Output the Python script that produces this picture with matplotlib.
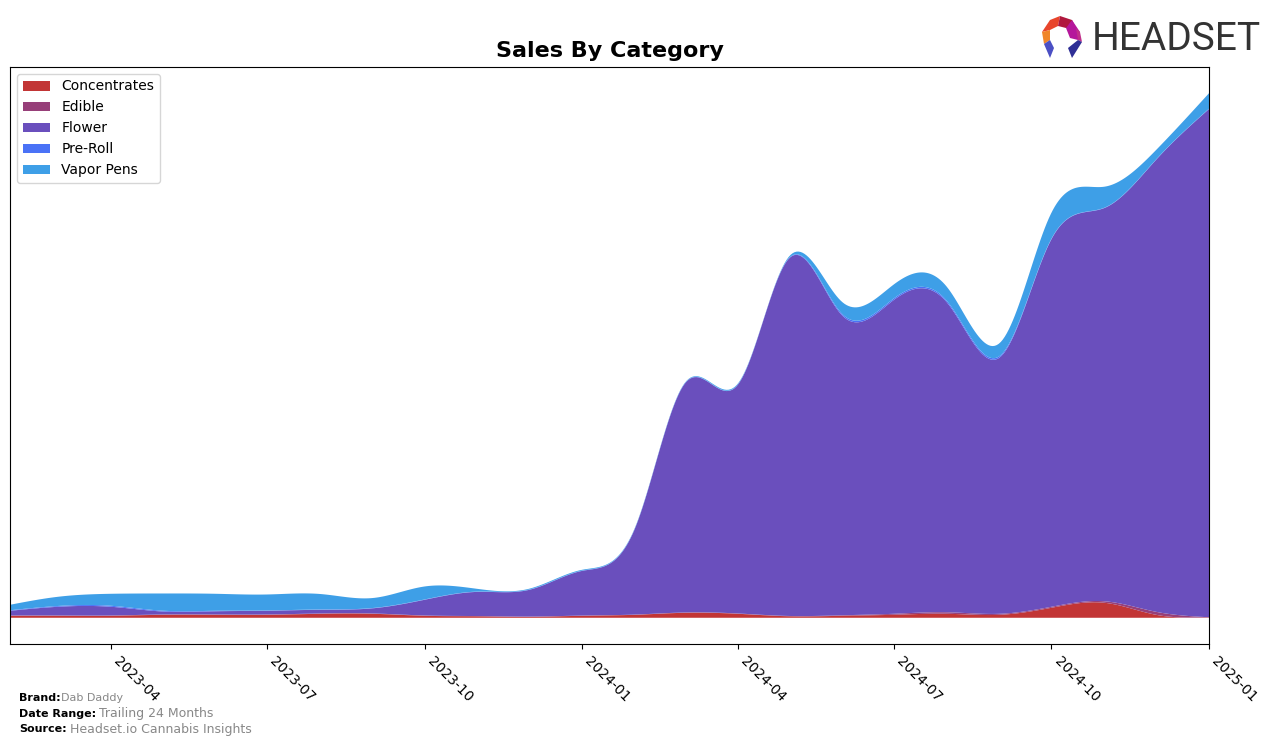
import numpy as np
import pandas as pd
import matplotlib
matplotlib.use("Agg")
import matplotlib.pyplot as plt
import matplotlib.dates as mdates
from matplotlib.patches import Polygon

# monthly sales (arbitrary units)
months = pd.date_range("2023-02-01", "2025-01-01", freq="MS")
categories = ["Concentrates", "Edible", "Flower", "Pre-Roll", "Vapor Pens"]
colors = ["#c23535", "#973f79", "#6a4fbd", "#4a72f6", "#3e9fe7"]

concentrates = [2, 2, 2, 3, 3, 3, 4, 4, 2, 1.5, 1, 2,
                3, 5, 4, 1.5, 2, 3, 4, 3, 10, 15, 3, 0.5]
edible = [0.3, 0.3, 0.3, 0.3, 0.3, 0.3, 0.3, 0.3, 0.3, 0.2, 0.2, 0.2,
          0.2, 0.3, 0.3, 0.3, 0.5, 1, 1.5, 1, 1, 1.5, 3, 0]
flower = [4.7, 8.7, 8.7, 3, 3.2, 3.7, 3.7, 5.2, 15.7, 24.2, 26.7, 44.7,
          86.7, 229, 229, 358, 299.7, 314, 310, 256.7, 367.7, 393.5, 452, 508.5]
preroll = [0.5, 0.8, 1, 0.8, 0.5, 0.3, 0.3, 0.3, 0.3, 0.3, 0.3, 0.3,
           0.3, 0.3, 0.3, 0.5, 1.5, 1.5, 1.5, 1.5, 0.5, 0.3, 0.3, 0.3]
vapor = [5.5, 9.2, 12, 17.2, 17, 16, 15.5, 10, 13, 2.7, 0.8, 0.8,
         0.5, 0.5, 0.8, 1.5, 12, 14, 14, 13, 26, 21, 9.5, 15.5]

tick_dates = pd.date_range("2023-04-01", "2025-01-01", freq="QS")


def natural_spline(x, y, xs):
    """natural cubic spline through (x, y), evaluated at xs"""
    x = np.asarray(x, float)
    y = np.asarray(y, float)
    n = len(x)
    h = np.diff(x)
    A = np.zeros((n, n))
    r = np.zeros(n)
    A[0, 0] = A[-1, -1] = 1.0
    for i in range(1, n - 1):
        A[i, i - 1] = h[i - 1]
        A[i, i] = 2 * (h[i - 1] + h[i])
        A[i, i + 1] = h[i]
        r[i] = 6 * ((y[i + 1] - y[i]) / h[i] - (y[i] - y[i - 1]) / h[i - 1])
    M = np.linalg.solve(A, r)
    k = np.clip(np.searchsorted(x, xs) - 1, 0, n - 2)
    t0 = xs - x[k]
    t1 = x[k + 1] - xs
    hk = h[k]
    return (M[k] * t1**3 / (6 * hk) + M[k + 1] * t0**3 / (6 * hk)
            + (y[k] / hk - M[k] * hk / 6) * t1
            + (y[k + 1] / hk - M[k + 1] * hk / 6) * t0)


xnum = mdates.date2num(months)
xs = np.linspace(xnum[0], xnum[-1], 600)
series = [concentrates, edible, flower, preroll, vapor]
smooth = [natural_spline(xnum, s, xs) for s in series]

fig = plt.figure(figsize=(12.76, 7.46), dpi=100)
ax = fig.add_axes([10 / 1276, 1 - 644 / 746, 1199 / 1276, 577 / 746])

ax.stackplot(mdates.num2date(xs), *smooth, labels=categories, colors=colors)
ax.set_xlim(mdates.num2date(xnum[0]), mdates.num2date(xnum[-1]))
ymax = np.sum(smooth, axis=0).max()
ax.set_ylim(-0.05 * ymax, 1.05 * ymax)
ax.set_yticks([])
ax.set_xticks(tick_dates)
ax.xaxis.set_major_formatter(mdates.DateFormatter("%Y-%m"))
plt.setp(ax.get_xticklabels(), rotation=-45, ha="left", fontsize=10)
ax.set_title("Sales By Category", fontsize=16, fontweight="bold", pad=7)
ax.legend(loc="upper left", fontsize=10)

# footer
fig.text(19 / 1276, 1 - 698 / 746, "Brand:", fontsize=8, fontweight="bold", va="center")
fig.text(61 / 1276, 1 - 698 / 746, "Dab Daddy", fontsize=8, color="#888888", va="center")
fig.text(19 / 1276, 1 - 714 / 746, "Date Range:", fontsize=8, fontweight="bold", va="center")
fig.text(99 / 1276, 1 - 714 / 746, "Trailing 24 Months", fontsize=9, color="#888888", va="center")
fig.text(19 / 1276, 1 - 729 / 746, "Source:", fontsize=8, fontweight="bold", va="center")
fig.text(70 / 1276, 1 - 729 / 746, "Headset.io Cannabis Insights", fontsize=9, color="#888888", va="center")

# logo
fig.text(1092 / 1276, 1 - 39 / 746, "HEADSET", fontsize=28, color="#333333",
         family=["Roboto", "DejaVu Sans"], va="center", ha="left")
lax = fig.add_axes([1036 / 1276, 1 - 62 / 746, 50 / 1276, 48 / 746])
lax.set_xlim(0, 50)
lax.set_ylim(0, 48)
lax.axis("off")
logo_parts = [
    ([(6, 30), (14, 42), (24, 46), (22, 36), (14, 32)], "#e8452c"),
    ([(24, 46), (36, 42), (40, 34), (30, 34), (22, 36)], "#b0183e"),
    ([(36, 42), (44, 30), (42, 22), (34, 24), (30, 34)], "#b5179b"),
    ([(6, 30), (14, 32), (14, 22), (8, 18)], "#f0862a"),
    ([(40, 34), (44, 30), (46, 20), (42, 22)], "#c1308a"),
    ([(8, 18), (14, 22), (18, 14), (14, 4)], "#4b4fc4"),
    ([(46, 20), (42, 22), (32, 14), (36, 4)], "#2f2f96"),
]
for pts, c in logo_parts:
    lax.add_patch(Polygon(pts, closed=True, color=c, lw=0))

fig.savefig("out.png", dpi=100)
